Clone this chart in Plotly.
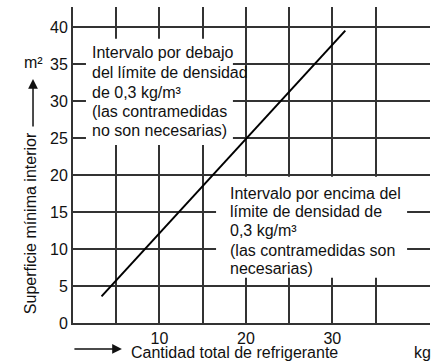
import plotly.graph_objects as go

# Refrigerant charge (kg) vs. minimum floor area (m²) at the 0.3 kg/m³ limit
charge_kg = [3.3, 31.5]
min_area_m2 = [3.6, 39.5]

x_tick_vals = [10, 20, 30]
x_minor_vals = [5, 15, 25, 35]
y_tick_vals = [0, 5, 10, 15, 20, 25, 30, 35, 40]

upper_lines = [
    "Intervalo por debajo",
    "del límite de densidad",
    "de 0,3 kg/m³",
    "(las contramedidas",
    "no son necesarias)",
]
lower_lines = [
    "Intervalo por encima del",
    "límite de densidad de",
    "0,3 kg/m³",
    "(las contramedidas son",
    "necesarias)",
]

FONT = "Liberation Sans, Arial, sans-serif"
INK = "#111111"
GRID = "#333333"

fig = go.Figure()
fig.add_trace(go.Scatter(
    x=charge_kg, y=min_area_m2, mode="lines",
    line=dict(color="#000000", width=2), showlegend=False, hoverinfo="skip",
))

# white panels behind the two region descriptions
fig.add_shape(type="rect", x0=1.5, x1=18.5, y0=24.05, y1=38.4,
              fillcolor="white", line=dict(width=0), layer="above")
fig.add_shape(type="rect", x0=16.55, x1=38.65, y0=6.1, y1=19.75,
              fillcolor="white", line=dict(width=0), layer="above")

upper_y = [36.5, 33.85, 31.2, 28.6, 25.95]
lower_y = [17.55, 15.0, 12.45, 9.85, 7.3]
for txt, yy in zip(upper_lines, upper_y):
    fig.add_annotation(x=1.97, y=yy, text=txt, showarrow=False,
                       xanchor="left", yanchor="middle",
                       font=dict(family=FONT, size=16, color=INK))
for txt, yy in zip(lower_lines, lower_y):
    fig.add_annotation(x=17.9, y=yy, text=txt, showarrow=False,
                       xanchor="left", yanchor="middle",
                       font=dict(family=FONT, size=16, color=INK))

# y axis title with upward arrow and unit
fig.add_annotation(xref="paper", yref="paper", x=-0.1204, y=0.316,
                   xanchor="center", yanchor="middle",
                   text="Superficie mínima interior", textangle=-90,
                   showarrow=False, font=dict(family=FONT, size=16, color=INK))
fig.add_annotation(xref="paper", yref="paper", x=-0.1120, y=0.772,
                   ax=0, ay=49, axref="pixel", ayref="pixel", text="",
                   showarrow=True, arrowhead=2, arrowsize=1.3, arrowwidth=1.5,
                   arrowcolor=INK)
fig.add_annotation(xref="paper", yref="paper", x=-0.1120, y=0.824,
                   xanchor="center", yanchor="middle",
                   text="m²", showarrow=False,
                   font=dict(family=FONT, size=16, color=INK))

# x axis title with rightward arrow and unit
fig.add_annotation(xref="paper", yref="paper", x=0.137, y=-0.082,
                   ax=-49, ay=0, axref="pixel", ayref="pixel", text="",
                   showarrow=True, arrowhead=2, arrowsize=1.3, arrowwidth=1.5,
                   arrowcolor=INK)
fig.add_annotation(xref="paper", yref="paper", x=0.157, y=-0.093,
                   xanchor="left", yanchor="middle",
                   text="Cantidad total de refrigerante", showarrow=False,
                   font=dict(family=FONT, size=16, color=INK))
fig.add_annotation(xref="paper", yref="paper", x=0.9790, y=-0.093,
                   xanchor="center", yanchor="middle",
                   text="kg", showarrow=False,
                   font=dict(family=FONT, size=16, color=INK))

fig.update_xaxes(
    range=[0, 41.3], tickvals=x_tick_vals, ticktext=[str(v) for v in x_tick_vals],
    showgrid=True, gridcolor=GRID, gridwidth=1.5,
    minor=dict(tickvals=x_minor_vals, showgrid=True, gridcolor=GRID, gridwidth=1.5),
    showline=True, linecolor=GRID, linewidth=2, zeroline=False, ticks="",
    tickfont=dict(family=FONT, size=16, color=INK), fixedrange=True,
)
fig.update_yaxes(
    range=[0, 42.7], tickvals=y_tick_vals,
    showgrid=True, gridcolor=GRID, gridwidth=1.5,
    showline=True, linecolor=GRID, linewidth=2, zeroline=False, ticks="",
    tickfont=dict(family=FONT, size=16, color=INK), fixedrange=True,
)

fig.update_layout(
    width=432, height=362,
    margin=dict(l=73, r=2, t=7, b=39),
    paper_bgcolor="white", plot_bgcolor="white",
    font=dict(family=FONT, size=16, color=INK),
    showlegend=False,
)

fig.write_html("out.html", config={"displayModeBar": False})
